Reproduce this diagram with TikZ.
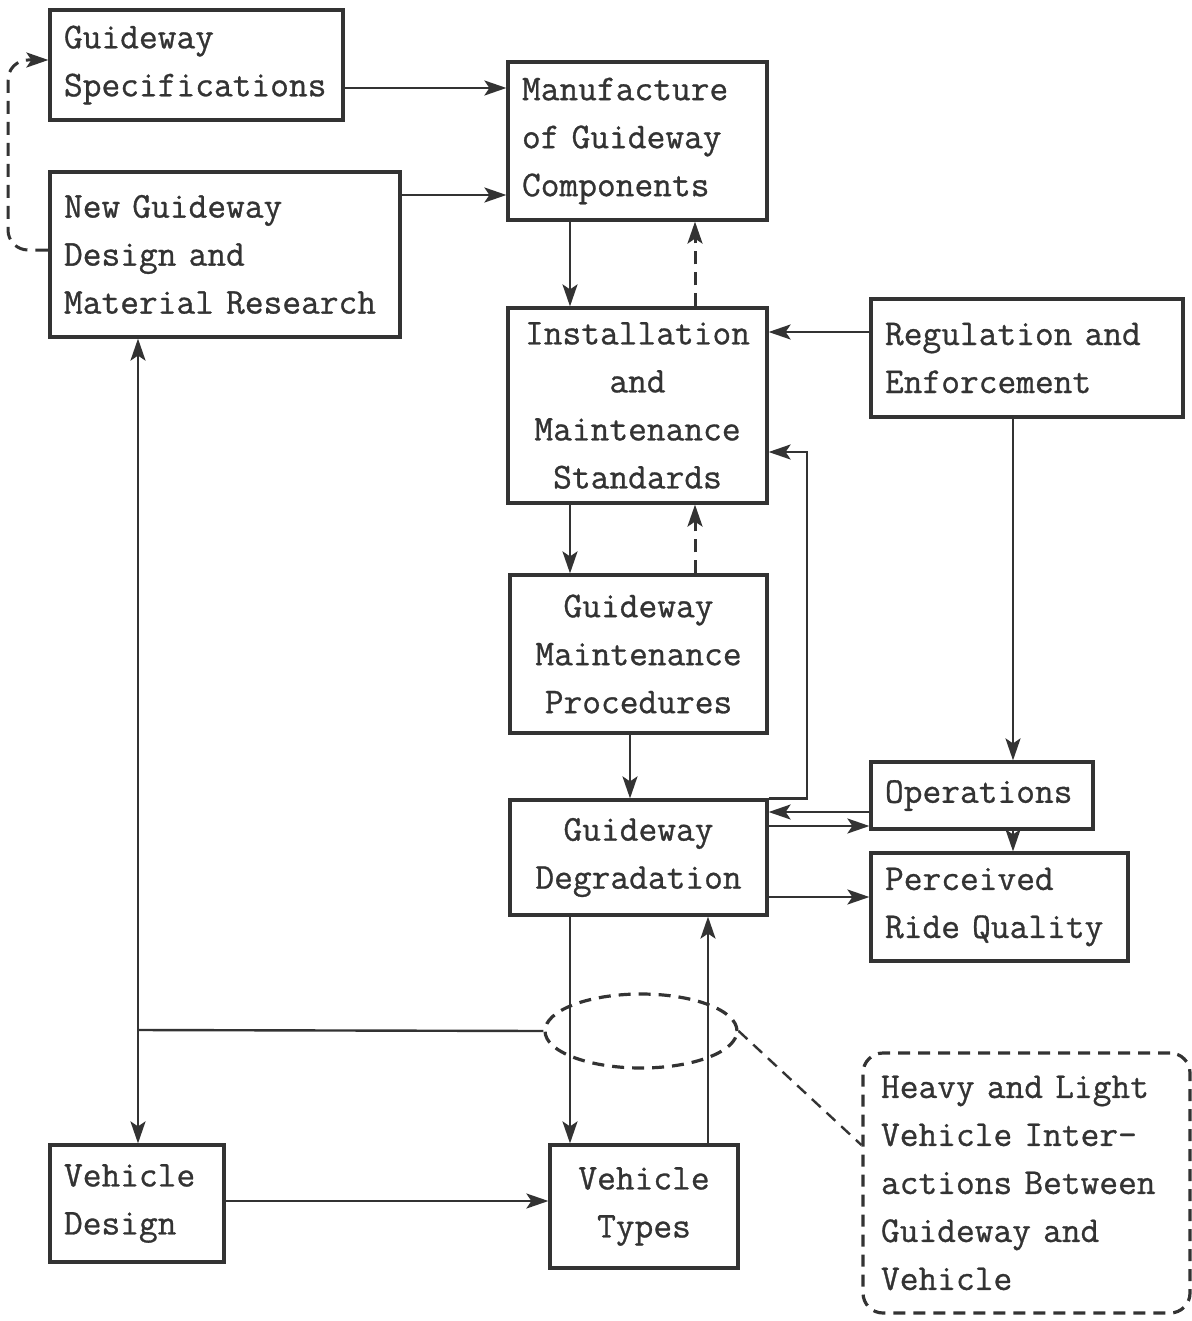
\documentclass[tikz,border=0pt]{standalone}
\usepackage{fontspec}
\usepackage{xcolor}
\usepackage{tikz}
\usetikzlibrary{arrows.meta,shapes.geometric}
\newfontfamily\twfont{Latin Modern Mono}[FakeBold=0.8]
\definecolor{ink}{HTML}{333333}
\newcommand{\boxfont}{\fontsize{18.2}{24}\selectfont\twfont}
\tikzset{
  gbox/.style={
    draw=ink,
    line width=1.6pt,
    text=ink,
    inner xsep=7pt,
    inner ysep=0pt,
    font=\boxfont
  },
  lbox/.style={gbox, align=left},
  cbox/.style={gbox, align=center},
  notebox/.style={gbox, align=left, rounded corners=10pt, dash pattern=on 6pt off 4pt, inner xsep=9pt},
  flow/.style={-{Stealth[length=11pt,width=7.5pt,inset=2.5pt]}, line width=1.2pt, draw=ink},
  dflow/.style={flow, line width=1.5pt, dash pattern=on 6.5pt off 4pt},
  link/.style={line width=1.2pt, draw=ink},
  dlink/.style={link, dash pattern=on 6pt off 4pt}
}

\begin{document}
\begin{tikzpicture}[x=0.5pt, y=-0.5pt]
\useasboundingbox (0,0) rectangle (1192,1321);

\node[lbox, text width=132.5pt, minimum height=55pt] (spec) at (196.5,65) {Guideway\\Specifications};
\node[lbox, text width=161pt, minimum height=82.5pt] (newdesign) at (225,254.5) {New Guideway\\Design and\\Material Research};
\node[lbox, text width=115.5pt, minimum height=79pt] (manuf) at (637.5,141) {Manufacture\\of Guideway\\Components};
\node[cbox, text width=115.5pt, minimum height=97.5pt] (install) at (637.5,405.5) {Installation\\and\\Maintenance\\Standards};
\node[lbox, text width=142pt, minimum height=59pt] (regul) at (1027,358) {Regulation and\\Enforcement};
\node[cbox, text width=114.5pt, minimum height=79pt] (proced) at (638.5,654) {Guideway\\Maintenance\\Procedures};
\node[cbox, text width=114.5pt, minimum height=57.5pt] (degrad) at (638.5,857.5) {Guideway\\Degradation};
\node[lbox, text width=97pt, minimum height=33.5pt] (oper) at (982,795.5) {Operations};
\node[lbox, text width=114.5pt, minimum height=54pt] (ride) at (999.5,907) {Perceived\\Ride Quality};
\node[lbox, text width=73pt, minimum height=58.5pt] (vdesign) at (137,1203.5) {Vehicle\\Design};
\node[cbox, text width=80pt, minimum height=61.5pt] (vtypes) at (644,1206.5) {Vehicle\\Types};
\node[notebox, text width=145.5pt, minimum height=130pt] (interact) at (1026.5,1183) {Heavy and Light\\Vehicle Inter-\\actions Between\\Guideway and\\Vehicle};
\node[ellipse, draw=ink, line width=1.6pt, dash pattern=on 6pt off 4pt, minimum width=96pt, minimum height=37pt, inner sep=0pt] (inter) at (641,1031) {};
\coordinate (tap) at (138,1030);

\draw[flow] (spec.east |- 0,88) -- (manuf.west |- 0,88);
\draw[flow] (newdesign.east |- 0,195) -- (manuf.west |- 0,195);
\draw[dflow, rounded corners=10pt] (newdesign.west |- 0,250) -- (8,250) -- (8,60) -- (spec.west |- 0,60);
\draw[flow] (manuf.south -| 570,0) -- (install.north -| 570,0);
\draw[dflow] (install.north -| 695,0) -- (manuf.south -| 695,0);
\draw[flow] (regul.west |- 0,332) -- (install.east |- 0,332);
\draw[flow] (regul.south -| 1013,0) -- (oper.north -| 1013,0);
\draw[flow] (install.south -| 570,0) -- (proced.north -| 570,0);
\draw[dflow] (proced.north -| 695,0) -- (install.south -| 695,0);
\draw[flow] (proced.south -| 630,0) -- (degrad.north -| 630,0);
\draw[flow] (degrad.north east) -| (807,452) -- (install.east |- 0,452);
\draw[flow] (oper.west |- 0,812) -- (degrad.east |- 0,812);
\draw[flow] (degrad.east |- 0,826) -- (oper.west |- 0,826);
\draw[flow] (oper.south -| 1013,0) -- (ride.north -| 1013,0);
\draw[flow] (degrad.east |- 0,897) -- (ride.west |- 0,897);
\draw[flow] (degrad.south -| 570,0) -- (vtypes.north -| 570,0);
\draw[flow] (vtypes.north -| 708,0) -- (degrad.south -| 708,0);
\draw[flow] (vdesign.east |- 0,1201) -- (vtypes.west |- 0,1201);
\draw[flow, {Stealth[length=11pt,width=7.5pt,inset=2.5pt]}-{Stealth[length=11pt,width=7.5pt,inset=2.5pt]}] (newdesign.south -| 138,0) -- (vdesign.north -| 138,0);
\draw[link] (tap) -- (inter.west);
\draw[dlink] (inter.east) -- (interact.west |- 0,1145);
\end{tikzpicture}
\end{document}
